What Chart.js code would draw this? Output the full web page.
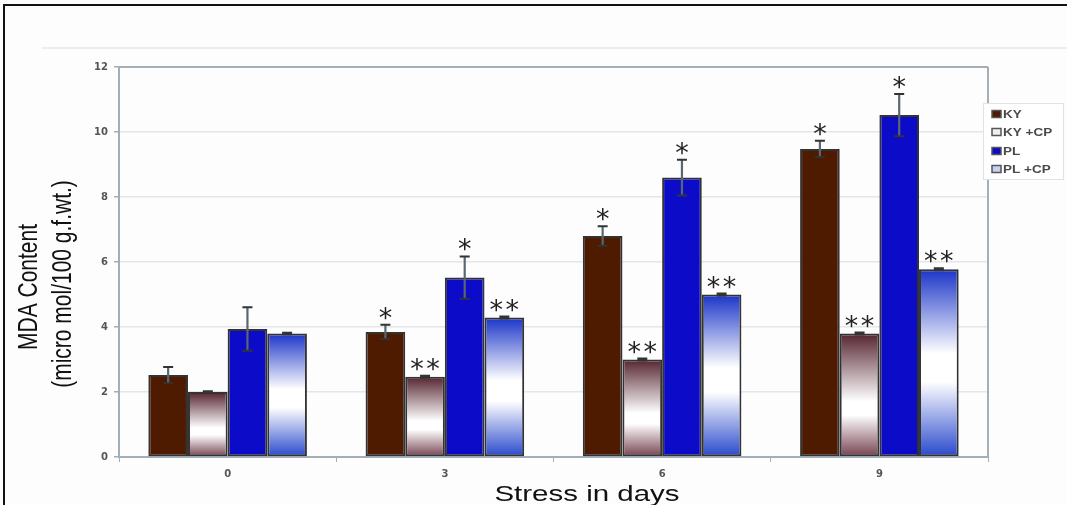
<!DOCTYPE html>
<html><head><meta charset="utf-8">
<script src="https://cdn.jsdelivr.net/npm/chart.js@4/dist/chart.umd.min.js"></script>
<style>
html,body{margin:0;padding:0;background:#fdfdfd;}
#wrap{position:relative;width:1067px;height:505px;overflow:hidden;background:#fdfdfd;}
#c{position:absolute;left:0;top:0;}
#frame{position:absolute;left:3px;top:4px;width:1100px;height:600px;border-top:2px solid #111;border-left:2px solid #111;box-sizing:border-box;}
#hl{position:absolute;left:42px;top:47px;width:1030px;height:2px;background:#eceeee;}
</style></head>
<body><div id="wrap"><canvas id="c" width="1067" height="505"></canvas><div id="frame"></div><div id="hl"></div></div>
<script>
// ---- data ----
const categories = ['0', '3', '6', '9'];
const seriesNames = ['KY', 'KY +CP', 'PL', 'PL +CP'];
const ky     = [2.52, 3.85, 6.80, 9.48];
const kyErr  = [0.25, 0.22, 0.30, 0.25];
const kyCp   = [2.00, 2.47, 3.00, 3.80];
const kyCpErr= [0.02, 0.03, 0.03, 0.03];
const pl     = [3.94, 5.52, 8.60, 10.52];
const plErr  = [0.67, 0.65, 0.55, 0.65];
const plCp   = [3.80, 4.29, 5.00, 5.78];
const plCpErr= [0.02, 0.03, 0.03, 0.03];
const kySig  = ['', '*', '*', '*'];
const kyCpSig= ['', '**', '**', '**'];
const plSig  = ['', '*', '*', '*'];
const plCpSig= ['', '**', '**', '**'];
const yTickValues = [0, 2, 4, 6, 8, 10, 12];
const xTitle = 'Stress in days';
const yTitle = ['MDA Content', '(micro mol/100 g.f.wt.)'];

function grad(c1, c2, w1, w2) {
  return (ctx) => {
    const chart = ctx.chart;
    if (!chart.chartArea || ctx.type !== 'data') return c1;
    const ys = chart.scales.y;
    const top = ys.getPixelForValue(ctx.raw), base = ys.getPixelForValue(0);
    const g = chart.ctx.createLinearGradient(0, top, 0, base);
    g.addColorStop(0, c1);
    g.addColorStop(w1, '#ffffff');
    g.addColorStop(w2, '#ffffff');
    g.addColorStop(1, c2);
    return g;
  };
}

const errs = [kyErr, kyCpErr, plErr, plCpErr];
const sigs = [kySig, kyCpSig, plSig, plCpSig];
const legendFills = ['#4e1a00', '#f2eeee', '#0c0cc8', '#c8d2f0'];
const legendStrokes = ['#555', '#555', '#555', '#555'];

function stretchedText(c, text, x, y, font, sx, sy, align, rot) {
  c.save();
  c.translate(x, y);
  if (rot) c.rotate(rot);
  c.scale(sx, sy);
  c.font = font;
  c.textAlign = align;
  c.textBaseline = 'alphabetic';
  c.fillText(text, 0, 0);
  c.restore();
}

const extras = {
  id: 'extras',
  afterDatasetsDraw(chart) {
    const c = chart.ctx, ys = chart.scales.y, ca = chart.chartArea;
    c.save();
    c.strokeStyle = '#a4aeb8'; c.lineWidth = 2;
    c.beginPath(); c.moveTo(ca.right, ca.top); c.lineTo(ca.right, ca.bottom); c.stroke();
    c.beginPath(); c.moveTo(ca.left, ca.top); c.lineTo(ca.right, ca.top); c.stroke();
    c.restore();
    chart.data.datasets.forEach((ds, di) => {
      const meta = chart.getDatasetMeta(di);
      meta.data.forEach((bar, i) => {
        const v = ds.data[i], e = errs[di][i];
        const yt = ys.getPixelForValue(v + e), yb = ys.getPixelForValue(v - e);
        c.save();
        c.strokeStyle = '#5c6670'; c.lineWidth = 2.2;
        c.beginPath(); c.moveTo(bar.x, yt); c.lineTo(bar.x, yb); c.stroke();
        c.strokeStyle = '#333'; c.lineWidth = 2;
        c.beginPath(); c.moveTo(bar.x - 5, yt); c.lineTo(bar.x + 5, yt);
        c.moveTo(bar.x - 5, yb); c.lineTo(bar.x + 5, yb); c.stroke();
        const s = sigs[di][i];
        if (s) {
          c.fillStyle = '#222';
          c.font = '27px "DejaVu Sans"';
          c.textAlign = 'center'; c.textBaseline = 'middle';
          const ty = yt - 5;
          if (s === '*') c.fillText('*', bar.x, ty);
          else { c.fillText('*', bar.x - 8, ty); c.fillText('*', bar.x + 8, ty); }
        }
        c.restore();
      });
    });
    c.save();
    c.fillStyle = '#ffffff'; c.strokeStyle = '#e2e2e2'; c.lineWidth = 1;
    c.fillRect(983, 103, 80, 76); c.strokeRect(983.5, 103.5, 80, 76);
    const ly = [114, 132, 151, 169];
    seriesNames.forEach((n, i) => {
      c.fillStyle = legendFills[i]; c.strokeStyle = legendStrokes[i]; c.lineWidth = 1.5;
      c.fillRect(992, ly[i] - 3.5, 9, 7); c.strokeRect(992, ly[i] - 3.5, 9, 7);
      c.fillStyle = '#4a4a4a';
      stretchedText(c, n, 1003, ly[i] + 3.6, 'bold 10px "Liberation Sans"', 1.35, 1, 'left', 0);
    });
    c.restore();
    c.save();
    c.fillStyle = '#111';
    stretchedText(c, yTitle[0], 37, 287, '21px "Liberation Sans"', 1, 1.3, 'center', -Math.PI / 2);
    stretchedText(c, yTitle[1], 71, 284, '21px "Liberation Sans"', 1, 1.3, 'center', -Math.PI / 2);
    stretchedText(c, xTitle, 587, 501, '22px "Liberation Sans"', 1.34, 1, 'center', 0);
    c.restore();
  }
};

new Chart(document.getElementById('c'), {
  type: 'bar',
  data: {
    labels: categories,
    datasets: [
      { label: seriesNames[0], data: ky, backgroundColor: '#4e1a00' },
      { label: seriesNames[1], data: kyCp, backgroundColor: grad('#552430', '#74404e', 0.55, 0.66) },
      { label: seriesNames[2], data: pl, backgroundColor: '#0c0cc8' },
      { label: seriesNames[3], data: plCp, backgroundColor: grad('#1a34c8', '#2848cc', 0.45, 0.6) }
    ].map(d => Object.assign(d, { borderColor: '#333333', borderWidth: 2, borderSkipped: false, categoryPercentage: 0.73, barPercentage: 1.0 }))
  },
  options: {
    responsive: false,
    animation: false,
    devicePixelRatio: 1,
    layout: { padding: { top: 67, right: 79, left: 0, bottom: 0 } },
    plugins: { legend: { display: false }, tooltip: { enabled: false } },
    scales: {
      x: {
        grid: { display: true, drawOnChartArea: false, offset: true, tickLength: 5, tickColor: '#a4aeb8' },
        border: { color: '#a4aeb8', width: 2 },
        ticks: { font: { family: 'DejaVu Sans', size: 10, weight: 'bold' }, color: '#555', padding: 6 },
        afterFit: (s) => { s.height = 48; }
      },
      y: {
        min: 0, max: 12,
        afterBuildTicks: (s) => { s.ticks = yTickValues.map(v => ({ value: v })); },
        ticks: { font: { family: 'DejaVu Sans', size: 10, weight: 'bold' }, color: '#555', padding: 6 },
        grid: { color: '#e4e6e8', lineWidth: 1.5, tickLength: 5, tickColor: '#a4aeb8' },
        border: { color: '#a4aeb8', width: 2 },
        afterFit: (s) => { s.width = 119; }
      }
    }
  },
  plugins: [extras]
});
</script>
</body></html>
